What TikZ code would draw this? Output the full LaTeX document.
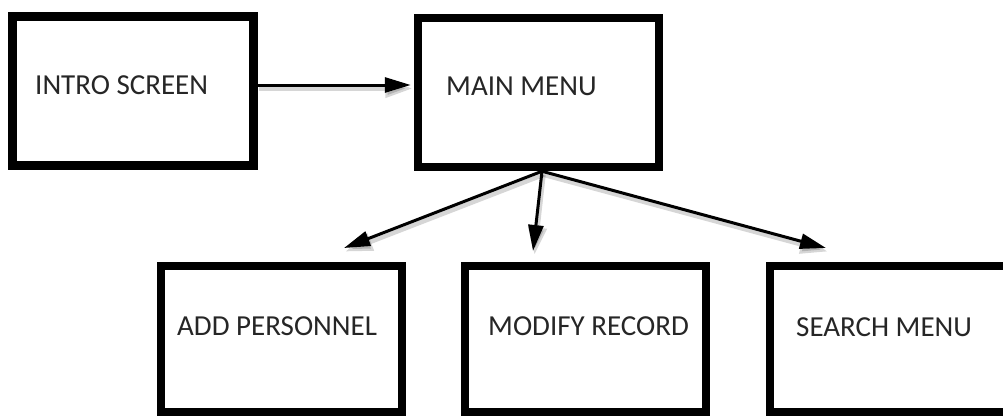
\documentclass[tikz,border=0pt]{standalone}
\usepackage{fontspec}
\setmainfont{Carlito}
\usetikzlibrary{arrows.meta,calc}
\begin{document}
\begin{tikzpicture}[x=1pt,y=-1pt,
  screen/.style={draw=black, line width=8.5pt, fill=white, inner sep=0pt,
    minimum width=241pt, minimum height=149pt},
  lowscreen/.style={screen, minimum height=146pt},
  lbl/.style={anchor=base west, inner sep=0pt, text=black!85,
    font=\fontsize{29}{34}\selectfont},
  arr/.style={draw=black, line width=3pt, -{Triangle[length=26pt,width=15pt]}},
  arrshadow/.style={draw=black, opacity=0.16, line width=4.5pt,
    -{Triangle[length=27pt,width=18pt]}}]
  \useasboundingbox (0,0) rectangle (1003,415);
  \clip (0,0) rectangle (1003,415);
  \fill[white] (0,0) rectangle (1003,415);

  % screens
  \node[screen]    (intro)  at (132.75,91)  {};
  \node[screen]    (main)   at (538.5,92.5) {};
  \node[lowscreen] (add)    at (281.5,339)  {};
  \node[lowscreen] (modify) at (585.5,339)  {};
  \node[lowscreen] (search) at (890.5,339)  {};

  % screen titles
  \node[lbl] (introtext)  at (35,94)   {INTRO SCREEN};
  \node[lbl] (maintext)   at (446,95)  {MAIN MENU};
  \node[lbl] (addtext)    at (177,335) {ADD PERSONNEL};
  \node[lbl] (modifytext) at (488,335) {MODIFY RECORD};
  \node[lbl] (searchtext) at (796,336) {SEARCH MENU};

  % connector end points
  \coordinate (hub)    at ($(main.south)+(3.5,0)$);
  \coordinate (toadd)  at (344,248);
  \coordinate (tomod)  at (533,251);
  \coordinate (tosrch) at (826,248);
  \coordinate (fromintro) at ($(intro.east)+(0,-6)$);

  % soft shadows under the connectors
  \begin{scope}[transform canvas={shift={(1.5pt,-3.5pt)}}]
    \draw[arrshadow, shorten >=3pt] (fromintro) -- (fromintro -| main.west);
    \draw[arrshadow] (hub) -- (toadd);
    \draw[arrshadow] (hub) -- (tomod);
    \draw[arrshadow] (hub) -- (tosrch);
  \end{scope}

  % connectors
  \draw[arr, shorten >=3pt] (fromintro) -- (fromintro -| main.west);
  \draw[arr] (hub) -- (toadd);
  \draw[arr] (hub) -- (tomod);
  \draw[arr] (hub) -- (tosrch);
\end{tikzpicture}
\end{document}
